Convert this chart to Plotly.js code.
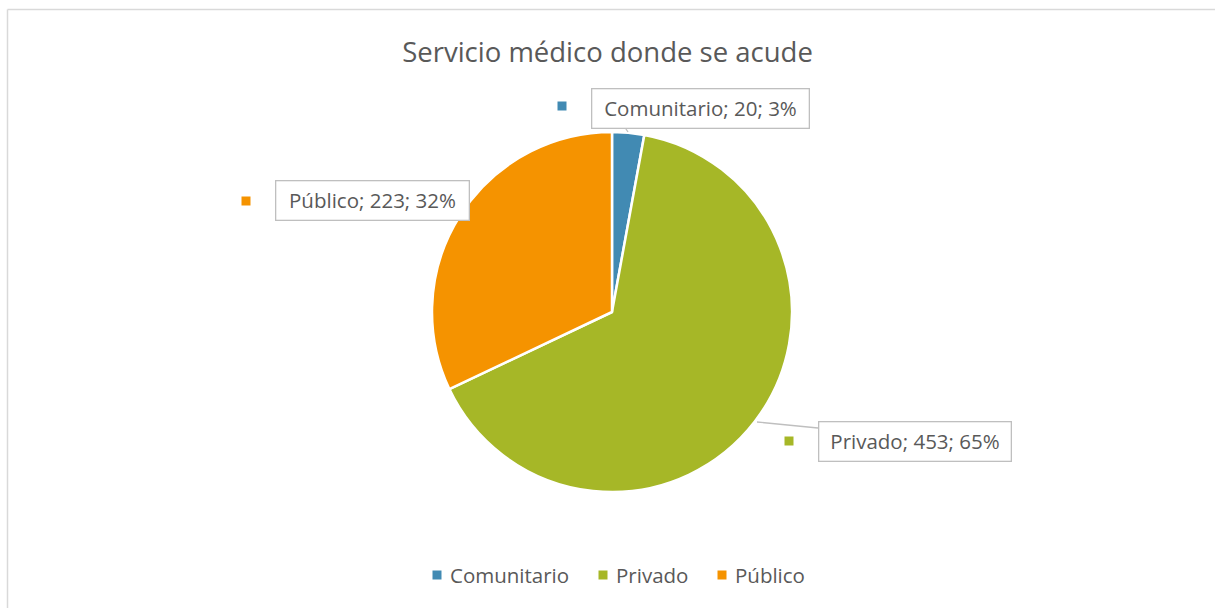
<!DOCTYPE html>
<html>
<head>
<meta charset="utf-8">
<script src="https://cdn.plot.ly/plotly-3.0.1.min.js"></script>
<style>
html,body{margin:0;padding:0;background:#fff;}
#chart{width:1215px;height:608px;}
</style>
</head>
<body>
<div id="chart"></div>
<script>
const categories = ["Comunitario", "Privado", "Público"];
const values = [20, 453, 223];
const percents = ["3%", "65%", "32%"];
const colors = ["#418AB3", "#A6B727", "#F59300"];

const W = 1215, H = 608;
const px = x => x / W;
const py = y => 1 - y / H;
const font = "Open Sans, Liberation Sans, sans-serif";
const txtColor = "#595959";

const labelBoxes = [
  {x: 700.5, y: 108.5, w: 219, mx: 562, my: 106},
  {x: 915, y: 441.5, w: 194, mx: 789, my: 441},
  {x: 372.5, y: 200, w: 195, mx: 246, my: 201}
];
const legendPos = [437, 603, 722];
const legendY = 575;
const pad = 5, bw = 1.3;

const annotations = [];
const shapes = [];
categories.forEach((c, i) => {
  const b = labelBoxes[i];
  annotations.push({
    xref: "paper", yref: "paper", x: px(b.x), y: py(b.y),
    xanchor: "center", yanchor: "middle", showarrow: false,
    text: c + "; " + values[i] + "; " + percents[i],
    width: b.w - 2 * pad - 2 * bw, align: "center",
    font: {family: font, size: 20.5, color: txtColor},
    bordercolor: "#BFBFBF", borderwidth: bw, borderpad: pad, bgcolor: "#fff"
  });
  shapes.push({
    type: "rect", xref: "paper", yref: "paper",
    x0: px(b.mx - 4.5), x1: px(b.mx + 4.5), y0: py(b.my + 4.5), y1: py(b.my - 4.5),
    fillcolor: colors[i], line: {width: 0}
  });
  // legend
  const lx = legendPos[i];
  shapes.push({
    type: "rect", xref: "paper", yref: "paper",
    x0: px(lx - 4.5), x1: px(lx + 4.5), y0: py(legendY + 4.5), y1: py(legendY - 4.5),
    fillcolor: colors[i], line: {width: 0}
  });
  annotations.push({
    xref: "paper", yref: "paper", x: px(lx + 11), y: py(legendY),
    xanchor: "left", yanchor: "middle", showarrow: false, text: c,
    font: {family: font, size: 20.5, color: txtColor}
  });
});
// leader lines
shapes.push({type: "line", xref: "paper", yref: "paper",
  x0: px(625), y0: py(127.5), x1: px(628), y1: py(132),
  line: {color: "#BFBFBF", width: 1.3}});
shapes.push({type: "line", xref: "paper", yref: "paper",
  x0: px(757), y0: py(422), x1: px(818), y1: py(428),
  line: {color: "#BFBFBF", width: 1.3}});
// outer chart border
shapes.push({type: "line", xref: "paper", yref: "paper",
  x0: px(7.5), y0: py(9.5), x1: px(1215), y1: py(9.5),
  line: {color: "#D9D9D9", width: 1.5}});
shapes.push({type: "line", xref: "paper", yref: "paper",
  x0: px(7.5), y0: py(9.5), x1: px(7.5), y1: py(608),
  line: {color: "#D9D9D9", width: 1.5}});

const data = [{
  type: "pie",
  labels: categories,
  values: values,
  marker: {colors: colors, line: {color: "#fff", width: 2.5}},
  sort: false,
  direction: "clockwise",
  rotation: 0,
  textinfo: "none",
  hoverinfo: "label+value+percent",
  showlegend: false,
  domain: {x: [px(432), px(792)], y: [py(492), py(132)]}
}];

const layout = {
  width: W, height: H,
  margin: {l: 0, r: 0, t: 0, b: 0},
  paper_bgcolor: "#fff",
  title: {text: "Servicio médico donde se acude", x: 0.5, xanchor: "center",
    y: py(52), yanchor: "middle", yref: "paper",
    font: {family: font, size: 27.5, color: txtColor}},
  showlegend: false,
  annotations: annotations,
  shapes: shapes
};

Plotly.newPlot("chart", data, layout, {displayModeBar: false, staticPlot: true});
</script>
</body>
</html>
